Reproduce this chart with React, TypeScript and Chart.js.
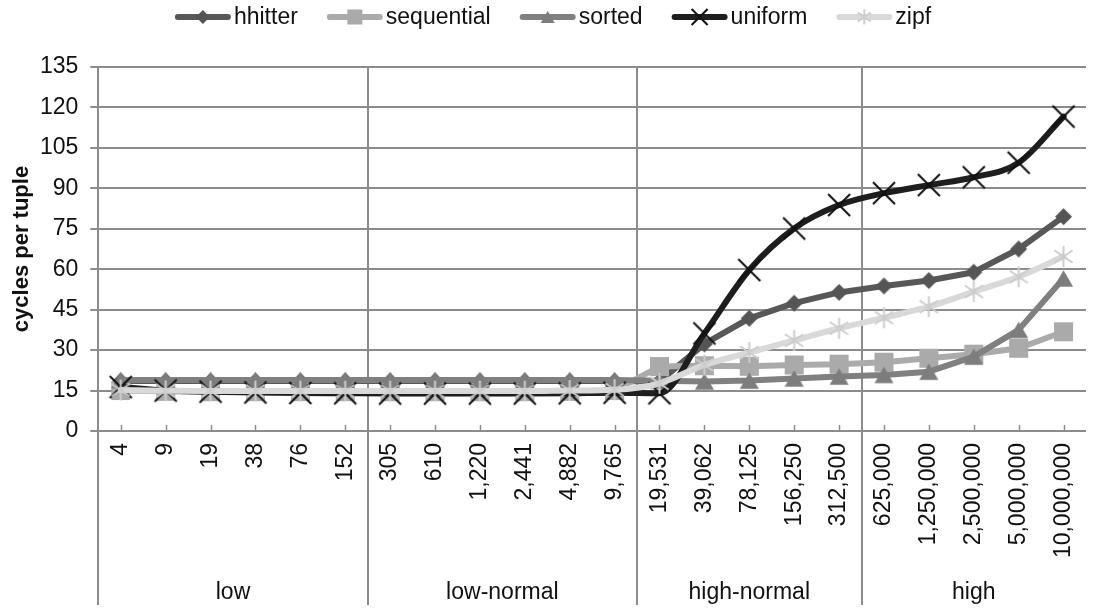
import React, { useEffect, useRef } from 'react';
import { Chart, registerables } from 'chart.js';

Chart.register(...registerables);

// Input sizes on the x axis, grouped into four ranges
const sizeLabels = [
  '4', '9', '19', '38', '76', '152',
  '305', '610', '1,220', '2,441', '4,882', '9,765',
  '19,531', '39,062', '78,125', '156,250', '312,500',
  '625,000', '1,250,000', '2,500,000', '5,000,000', '10,000,000',
];
const groupNames = ['low', 'low-normal', 'high-normal', 'high'];
const groupSizes = [6, 6, 5, 5];

// Cycles per tuple for each key distribution
const hhitter = [18.5, 18.5, 18.5, 18.5, 18.5, 18.5, 18.5, 18.5, 18.5, 18.5, 18.5, 18.5, 18.4, 32.3, 41.8, 47.4, 51.4, 53.8, 55.8, 58.9, 67.5, 79.5];
const sequential = [15.0, 14.7, 14.6, 14.6, 14.6, 14.6, 14.6, 14.6, 14.6, 14.6, 14.7, 15.0, 23.9, 24.2, 24.0, 24.5, 24.8, 25.5, 27.0, 28.5, 30.7, 36.8];
const sorted = [18.9, 18.9, 18.9, 18.9, 18.9, 18.9, 18.9, 18.9, 18.9, 18.9, 18.9, 18.9, 18.6, 18.4, 18.7, 19.5, 20.2, 20.8, 22.0, 27.6, 37.5, 56.6];
const uniform = [16.3, 15.0, 14.6, 14.3, 14.1, 14.0, 13.9, 13.9, 13.9, 13.9, 14.0, 14.2, 14.0, 36.2, 59.7, 75.1, 83.8, 88.2, 91.2, 94.1, 99.5, 116.6];
const zipf = [15.2, 14.9, 14.8, 14.8, 14.8, 14.8, 14.8, 14.8, 14.8, 14.8, 15.0, 15.3, 17.7, 24.5, 29.1, 33.6, 38.1, 42.0, 46.1, 51.7, 57.2, 64.7];

const yMin = 0;
const yMax = 135;
const yStep = 15;
const yTitle = 'cycles per tuple';

const FONT = "'Liberation Sans', Arial, Helvetica, sans-serif";
const GRID = '#8c8c8c';
const TEXT = '#111111';

type MarkerKind = 'diamond' | 'square' | 'triangle' | 'x' | 'asterisk';

interface SeriesDef {
  name: string;
  values: number[];
  color: string;
  markerColor: string;
  marker: MarkerKind;
  size: number;
  legendSize: number;
  smooth: boolean;
}

const series: SeriesDef[] = [
  { name: 'hhitter', values: hhitter, color: '#585858', markerColor: '#555555', marker: 'diamond', size: 17, legendSize: 14, smooth: false },
  { name: 'sequential', values: sequential, color: '#ababab', markerColor: '#aaaaaa', marker: 'square', size: 19, legendSize: 15, smooth: false },
  { name: 'sorted', values: sorted, color: '#808080', markerColor: '#7d7d7d', marker: 'triangle', size: 19, legendSize: 14, smooth: false },
  { name: 'uniform', values: uniform, color: '#1e1e1e', markerColor: '#111111', marker: 'x', size: 22, legendSize: 16, smooth: true },
  { name: 'zipf', values: zipf, color: '#d9d9d9', markerColor: '#cdcdcd', marker: 'asterisk', size: 21, legendSize: 15, smooth: true },
];

function drawMarker(ctx: CanvasRenderingContext2D, kind: MarkerKind, cx: number, cy: number, size: number, color: string) {
  const h = size / 2;
  ctx.save();
  ctx.fillStyle = color;
  ctx.strokeStyle = color;
  ctx.lineWidth = 2;
  ctx.lineCap = 'butt';
  ctx.beginPath();
  switch (kind) {
    case 'diamond':
      ctx.moveTo(cx, cy - h);
      ctx.lineTo(cx + h, cy);
      ctx.lineTo(cx, cy + h);
      ctx.lineTo(cx - h, cy);
      ctx.closePath();
      ctx.fill();
      break;
    case 'square':
      ctx.rect(cx - h, cy - h, size, size);
      ctx.fill();
      break;
    case 'triangle': {
      const th = size * 0.866 / 2;
      ctx.moveTo(cx, cy - th);
      ctx.lineTo(cx + h, cy + th);
      ctx.lineTo(cx - h, cy + th);
      ctx.closePath();
      ctx.fill();
      break;
    }
    case 'x':
      ctx.moveTo(cx - h, cy - h);
      ctx.lineTo(cx + h, cy + h);
      ctx.moveTo(cx + h, cy - h);
      ctx.lineTo(cx - h, cy + h);
      ctx.stroke();
      break;
    case 'asterisk':
      ctx.moveTo(cx - h * 0.87, cy - h * 0.6);
      ctx.lineTo(cx + h * 0.87, cy + h * 0.6);
      ctx.moveTo(cx + h * 0.87, cy - h * 0.6);
      ctx.lineTo(cx - h * 0.87, cy + h * 0.6);
      ctx.moveTo(cx, cy - h);
      ctx.lineTo(cx, cy + h);
      ctx.stroke();
      break;
  }
  ctx.restore();
}

function markerImage(kind: MarkerKind, size: number, color: string): HTMLCanvasElement {
  const c = document.createElement('canvas');
  const dim = Math.ceil(size + 4);
  c.width = dim;
  c.height = dim;
  const ctx = c.getContext('2d')!;
  drawMarker(ctx, kind, dim / 2, dim / 2, size, color);
  return c;
}

const decorations = {
  id: 'decorations',
  beforeDatasetsDraw(chart: any) {
    const { ctx, chartArea } = chart;
    const x = chart.scales.x;
    const n = sizeLabels.length;
    const step = (chartArea.right - chartArea.left) / n;
    ctx.save();
    // group separators, including the value axis line
    ctx.strokeStyle = GRID;
    ctx.lineWidth = 2;
    let k = 0;
    groupSizes.forEach((size) => {
      const px = Math.round(chartArea.left + k * step);
      ctx.beginPath();
      ctx.moveTo(px, chartArea.top);
      ctx.lineTo(px, 605);
      ctx.stroke();
      k += size;
    });
    // inside tick marks on the category axis
    ctx.lineWidth = 1.5;
    for (let i = 0; i < n; i++) {
      const px = Math.round(x.getPixelForValue(i)) + 0.5;
      ctx.beginPath();
      ctx.moveTo(px, chartArea.bottom - 6);
      ctx.lineTo(px, chartArea.bottom);
      ctx.stroke();
    }
    ctx.restore();
  },
  afterDraw(chart: any) {
    const { ctx, chartArea, width } = chart;
    const x = chart.scales.x;
    const n = sizeLabels.length;
    const step = (chartArea.right - chartArea.left) / n;
    ctx.save();
    ctx.fillStyle = TEXT;

    // rotated size labels
    ctx.font = `23px ${FONT}`;
    ctx.textAlign = 'right';
    ctx.textBaseline = 'middle';
    sizeLabels.forEach((lab, i) => {
      const px = x.getPixelForValue(i);
      ctx.save();
      ctx.translate(px, chartArea.bottom + 12);
      ctx.rotate(-Math.PI / 2);
      ctx.fillText(lab, 0, 0);
      ctx.restore();
    });

    // range names
    ctx.textAlign = 'center';
    let k = 0;
    groupNames.forEach((g, gi) => {
      const left = chartArea.left + k * step;
      const right = chartArea.left + (k + groupSizes[gi]) * step;
      ctx.fillText(g, (left + right) / 2, 593);
      k += groupSizes[gi];
    });

    // value axis title
    ctx.font = `bold 22px ${FONT}`;
    ctx.save();
    ctx.translate(22, (chartArea.top + chartArea.bottom) / 2);
    ctx.rotate(-Math.PI / 2);
    ctx.textAlign = 'center';
    ctx.textBaseline = 'middle';
    ctx.fillText(yTitle, 0, 0);
    ctx.restore();

    // legend row
    ctx.font = `23px ${FONT}`;
    const sample = 56;
    const gapText = 3;
    const gapItem = 29;
    const widths = series.map((s) => sample + gapText + ctx.measureText(s.name).width);
    const total = widths.reduce((a, b) => a + b, 0) + gapItem * (series.length - 1);
    let lx = width / 2 - total / 2 + 3;
    const ly = 17;
    series.forEach((s, i) => {
      ctx.strokeStyle = s.color;
      ctx.lineWidth = 6;
      ctx.lineCap = 'round';
      ctx.beginPath();
      ctx.moveTo(lx + 3, ly);
      ctx.lineTo(lx + sample - 3, ly);
      ctx.stroke();
      drawMarker(ctx, s.marker, lx + sample / 2, ly, s.legendSize, s.markerColor);
      ctx.fillStyle = TEXT;
      ctx.textAlign = 'left';
      ctx.textBaseline = 'middle';
      ctx.fillText(s.name, lx + sample + gapText, ly + 1);
      lx += widths[i] + gapItem;
    });
    ctx.restore();
  },
};

export default function App() {
  const canvasRef = useRef<HTMLCanvasElement | null>(null);

  useEffect(() => {
    const canvas = canvasRef.current;
    if (!canvas) return;
    const datasets = series.map((s, i) => ({
      label: s.name,
      data: s.values,
      borderColor: s.color,
      backgroundColor: s.color,
      borderWidth: 6,
      borderCapStyle: 'round' as const,
      borderJoinStyle: 'round' as const,
      cubicInterpolationMode: s.smooth ? ('monotone' as const) : ('default' as const),
      tension: 0,
      pointStyle: markerImage(s.marker, s.size, s.markerColor),
      pointRadius: 8,
      pointHoverRadius: 8,
      order: series.length - 1 - i,
    }));
    const chart = new Chart(canvas, {
      type: 'line',
      data: { labels: sizeLabels, datasets },
      options: {
        responsive: false,
        animation: false,
        devicePixelRatio: 1,
        layout: { padding: { top: 67, right: 2.2, left: 0, bottom: 0 } },
        plugins: {
          legend: { display: false },
          tooltip: { enabled: false },
        },
        events: [],
        scales: {
          x: {
            type: 'category',
            offset: true,
            grid: { display: false },
            border: { display: false },
            ticks: { display: false },
            afterFit: (s: any) => { s.height = 179; },
          },
          y: {
            min: yMin,
            max: yMax,
            ticks: {
              stepSize: yStep,
              color: TEXT,
              padding: 12,
              font: { family: FONT, size: 23 },
            },
            grid: { color: GRID, lineWidth: 2, tickLength: 8, drawTicks: true },
            border: { display: false },
            afterFit: (s: any) => { s.width = 98.3; },
          },
        },
      },
      plugins: [decorations],
    });
    return () => chart.destroy();
  }, []);

  return (
    <div style={{ position: 'fixed', left: 0, top: 0, width: 1094, height: 610, overflow: 'hidden', background: '#ffffff' }}>
      <canvas ref={canvasRef} width={1100} height={610} style={{ display: 'block', width: 1100, height: 610 }} />
    </div>
  );
}
